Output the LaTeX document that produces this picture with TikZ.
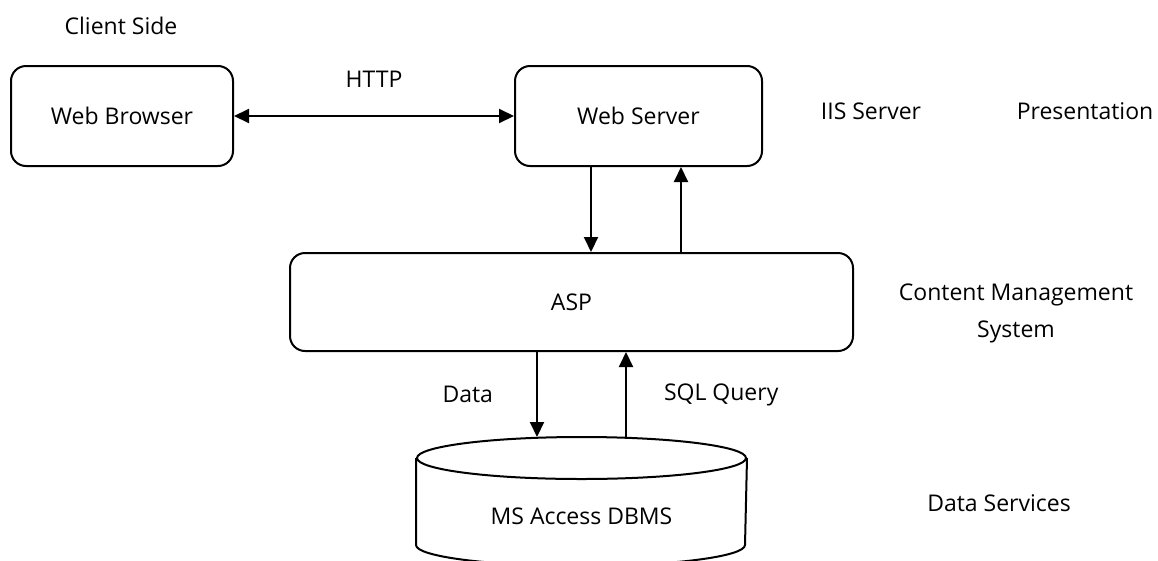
\documentclass[tikz,border=0pt]{standalone}
\usepackage{fontspec}
\setmainfont{Open Sans}
\usetikzlibrary{arrows.meta}

\begin{document}
\begin{tikzpicture}[x=1pt,y=1pt,line width=2pt,>={Triangle[width=14pt,length=15pt]},font=\fontsize{23}{37}\selectfont]
        \tikzstyle{box}=[draw=black,rounded corners=15pt,minimum height=100pt,inner sep=0pt]
        \tikzstyle{txt}=[inner sep=0pt,align=center]
        \useasboundingbox (0,0) rectangle (1158,-560);
        \node[box, minimum width=222pt] (1) at (122,-116)   {Web Browser};
        \node[box, minimum width=247pt] (2) at (638.5,-116) {Web Server};
        \node[box, minimum width=563pt, minimum height=98pt] (3) at (571.5,-302) {ASP};
        \node[minimum width=329pt, minimum height=106pt, inner sep=0pt] (4) at (581.5,-491) {};
        % side texts
        \node[txt] (cs) at (121,-26)    {Client Side};
        \node[txt] (is) at (871,-111)   {IIS Server};
        \node[txt] (pr) at (1085,-111)  {Presentation};
        \node[txt] (cm) at (1016,-313)  {Content Management\\System};
        \node[txt] (ds) at (999,-503)   {Data Services};
        \node[txt] (db) at (581.5,-516) {MS Access DBMS};
        % database
        \draw ([yshift=-21pt]4.north) ellipse [x radius=164.5pt, y radius=21pt];
        \draw ([yshift=-21pt]4.north west) -- (4.south west)
            arc [start angle=180, end angle=360, x radius=164.5pt, y radius=21pt]
            -- ([yshift=-21pt]4.north east);
        % arrows
        \coordinate (a) at (591,0);
        \coordinate (b) at (681,0);
        \coordinate (c) at (537,0);
        \coordinate (d) at (626,0);
        \path[<->] (1) edge node[txt, above=28pt] {HTTP} (2);
        \draw[->] (2.south -| a) -- (3.north -| a);
        \draw[->] (3.north -| b) -- (2.south -| b);
        \path[->] (3.south -| c) edge node[txt, left=43pt] {Data} (4.north -| c);
        \path[->] (4.north -| d) edge node[txt, right=37pt] {SQL Query} (3.south -| d);
    \end{tikzpicture}
\end{document}
